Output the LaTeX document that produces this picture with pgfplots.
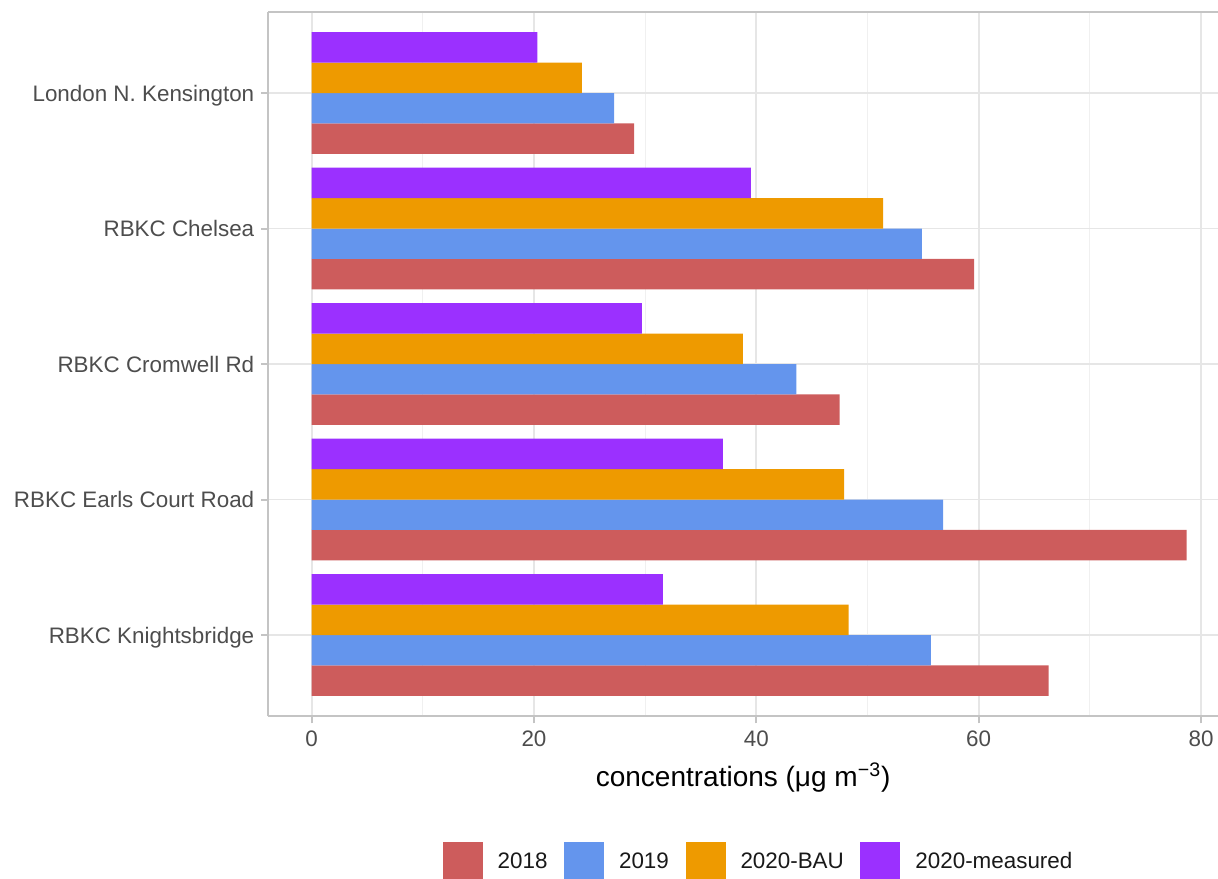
\documentclass[border=0pt]{standalone}
\usepackage{pgfplots}
\pgfplotsset{compat=1.18}
\usepackage{fontspec}
\setmainfont{Liberation Sans}

\definecolor{c2018}{HTML}{CD5C5C}
\definecolor{c2019}{HTML}{6495ED}
\definecolor{cbau}{HTML}{EE9A00}
\definecolor{cmeas}{HTML}{9B30FF}
\definecolor{grey30}{HTML}{4D4D4D}
\definecolor{border}{HTML}{C4C4C4}
\definecolor{gridmaj}{HTML}{E6E6E6}
\definecolor{gridmin}{HTML}{F0F0F0}

\pgfplotsset{sqlegend/.style={legend image code/.code={\path[##1] (0pt,-10pt) rectangle (20pt,10pt);}}}

\begin{document}
\begin{tikzpicture}
\useasboundingbox (-134.15pt,-80.85pt) rectangle (474.85pt,358.15pt);
\begin{axis}[
  at={(0,0)}, anchor=south west,
  scale only axis, width=474.85pt, height=352.3pt,
  xmin=-3.9, xmax=81.53, ymin=-0.6, ymax=4.6,
  clip=false,
  axis x line*=bottom, axis y line*=left,
  xbar, bar width=0.225,
  ytick={0,1,2,3,4},
  yticklabels={RBKC Knightsbridge, RBKC Earls Court Road, RBKC Cromwell Rd, RBKC Chelsea, London N. Kensington},
  xtick={0,20,40,60,80}, minor xtick={10,30,50,70},
  grid=both,
  major grid style={draw=gridmaj, line width=0.9pt},
  minor grid style={draw=gridmin, line width=0.5pt},
  axis line style={draw=border, line width=1pt},
  tick align=outside, major tick length=3.5pt, minor tick length=0pt,
  tick style={draw=border, line width=1pt},
  ticklabel style={font=\fontsize{11.2}{13}\selectfont, text=grey30},
  yticklabel style={text height=8pt, text depth=0pt},
  /pgf/number format/assume math mode=true,
  xlabel={concentrations (μg m\textsuperscript{−3})},
  xlabel style={font=\fontsize{14}{16}\selectfont, at={(rel axis cs:0.5,-0.087)}, anchor=center},
  legend columns=4,
  legend style={at={(rel axis cs:0.5151,-0.2068)}, anchor=center, draw=none, fill=none,
    font=\fontsize{11.2}{13}\selectfont, text=black!90,
    nodes={inner sep=0pt},
    /tikz/every odd column/.style={column sep=7.5pt},
    /tikz/every even column/.style={column sep=8.3pt}},
]
\addplot[sqlegend, fill=c2018, draw=none, bar shift=-0.3375] coordinates {(66.3,0) (78.7,1) (47.5,2) (59.6,3) (29.0,4)};
\addplot[sqlegend, fill=c2019, draw=none, bar shift=-0.1125] coordinates {(55.7,0) (56.8,1) (43.6,2) (54.9,3) (27.2,4)};
\addplot[sqlegend, fill=cbau, draw=none, bar shift=0.1125] coordinates {(48.3,0) (47.9,1) (38.8,2) (51.4,3) (24.3,4)};
\addplot[sqlegend, fill=cmeas, draw=none, bar shift=0.3375] coordinates {(31.6,0) (37.0,1) (29.7,2) (39.5,3) (20.3,4)};
\legend{2018,2019,2020-BAU,2020-measured}
\draw[border, line width=1pt] (rel axis cs:0,1) -- (rel axis cs:1,1);
\end{axis}
\end{tikzpicture}
\end{document}
